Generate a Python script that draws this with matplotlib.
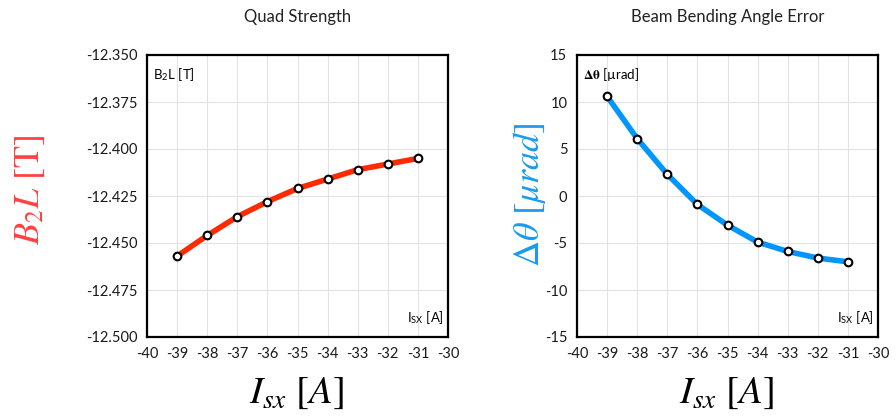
import matplotlib.pyplot as plt
import numpy as np

plt.rcParams['font.family'] = ['Lato', 'DejaVu Sans']
plt.rcParams['mathtext.fontset'] = 'stix'

# Coil current, A
current = [-39, -38, -37, -36, -35, -34, -33, -32, -31]
# Integrated quad strength B2L, T
b2l = [-12.457, -12.446, -12.436, -12.428, -12.421, -12.416, -12.411, -12.408, -12.405]
# Bending angle error, urad
dtheta = [10.6, 6.1, 2.3, -0.9, -3.1, -4.9, -5.9, -6.6, -7.0]

x_ticks = np.arange(-40, -29, 1)
b2l_ticks = [-12.500, -12.475, -12.450, -12.425, -12.400, -12.375, -12.350]
dtheta_ticks = [-15, -10, -5, 0, 5, 10, 15]

fig = plt.figure(figsize=(8.96, 4.17), dpi=100)
ax1 = fig.add_axes([147/896, 1 - 337/417, 301/896, 282/417])
ax2 = fig.add_axes([577/896, 1 - 337/417, 301/896, 282/417])

def style(ax, yticks, yfmt):
    ax.set_xlim(-40, -30)
    ax.set_ylim(yticks[0], yticks[-1])
    ax.set_xticks(x_ticks)
    ax.set_xticklabels([str(v) for v in x_ticks])
    ax.set_yticks(yticks)
    ax.set_yticklabels([yfmt.format(v) for v in yticks])
    ax.grid(True, color='#e2e2e2', linewidth=0.8)
    ax.set_axisbelow(True)
    ax.tick_params(length=0, labelsize=10.5, pad=7, colors='#1a1a1a')
    for s in ax.spines.values():
        s.set_linewidth(1.6)
        s.set_color('black')

def points(ax, y, color):
    ax.plot(current, y, color=color, linewidth=4, zorder=3)
    ax.plot(current, y, linestyle='none', marker='o', markersize=5.5,
            markerfacecolor='white', markeredgecolor='black', markeredgewidth=1.5, zorder=4)

# Left panel: quad strength
style(ax1, b2l_ticks, '{:.3f}')
points(ax1, b2l, '#ff2a00')
ax1.set_title('Quad Strength', fontsize=12, pad=24, color='#222222')
ax1.text(0.02, 0.93, 'B$_\\mathregular{2}$L [T]', transform=ax1.transAxes,
         fontsize=9.5, va='center', ha='left')
ax1.text(0.985, 0.07, 'I$_\\mathregular{SX}$ [A]', transform=ax1.transAxes,
         fontsize=9.5, va='center', ha='right')
fig.text(30/896, 1 - 190/417, r'$B_2L$ [T]', rotation=90, color='#ff4040',
         fontsize=26, ha='center', va='center', family='STIXGeneral')
fig.text(297/896, 1 - 393/417, r'$I_{sx}\ [A]$', fontsize=28,
         ha='center', va='center')

# Right panel: bending angle error
style(ax2, dtheta_ticks, '{:d}')
points(ax2, dtheta, '#0096ff')
ax2.set_title('Beam Bending Angle Error', fontsize=12, pad=24, color='#222222')
ax2.text(0.02, 0.93, r'$\mathbf{\Delta\theta}$ [µrad]', transform=ax2.transAxes,
         fontsize=9.5, va='center', ha='left')
ax2.text(0.985, 0.07, 'I$_\\mathregular{SX}$ [A]', transform=ax2.transAxes,
         fontsize=9.5, va='center', ha='right')
fig.text(530/896, 1 - 195/417, r'$\Delta\theta\ [\mu rad]$', rotation=90, color='#1a9bf0',
         fontsize=26, ha='center', va='center')
fig.text(727/896, 1 - 393/417, r'$I_{sx}\ [A]$', fontsize=28,
         ha='center', va='center')

fig.savefig('out.png', dpi=100)
